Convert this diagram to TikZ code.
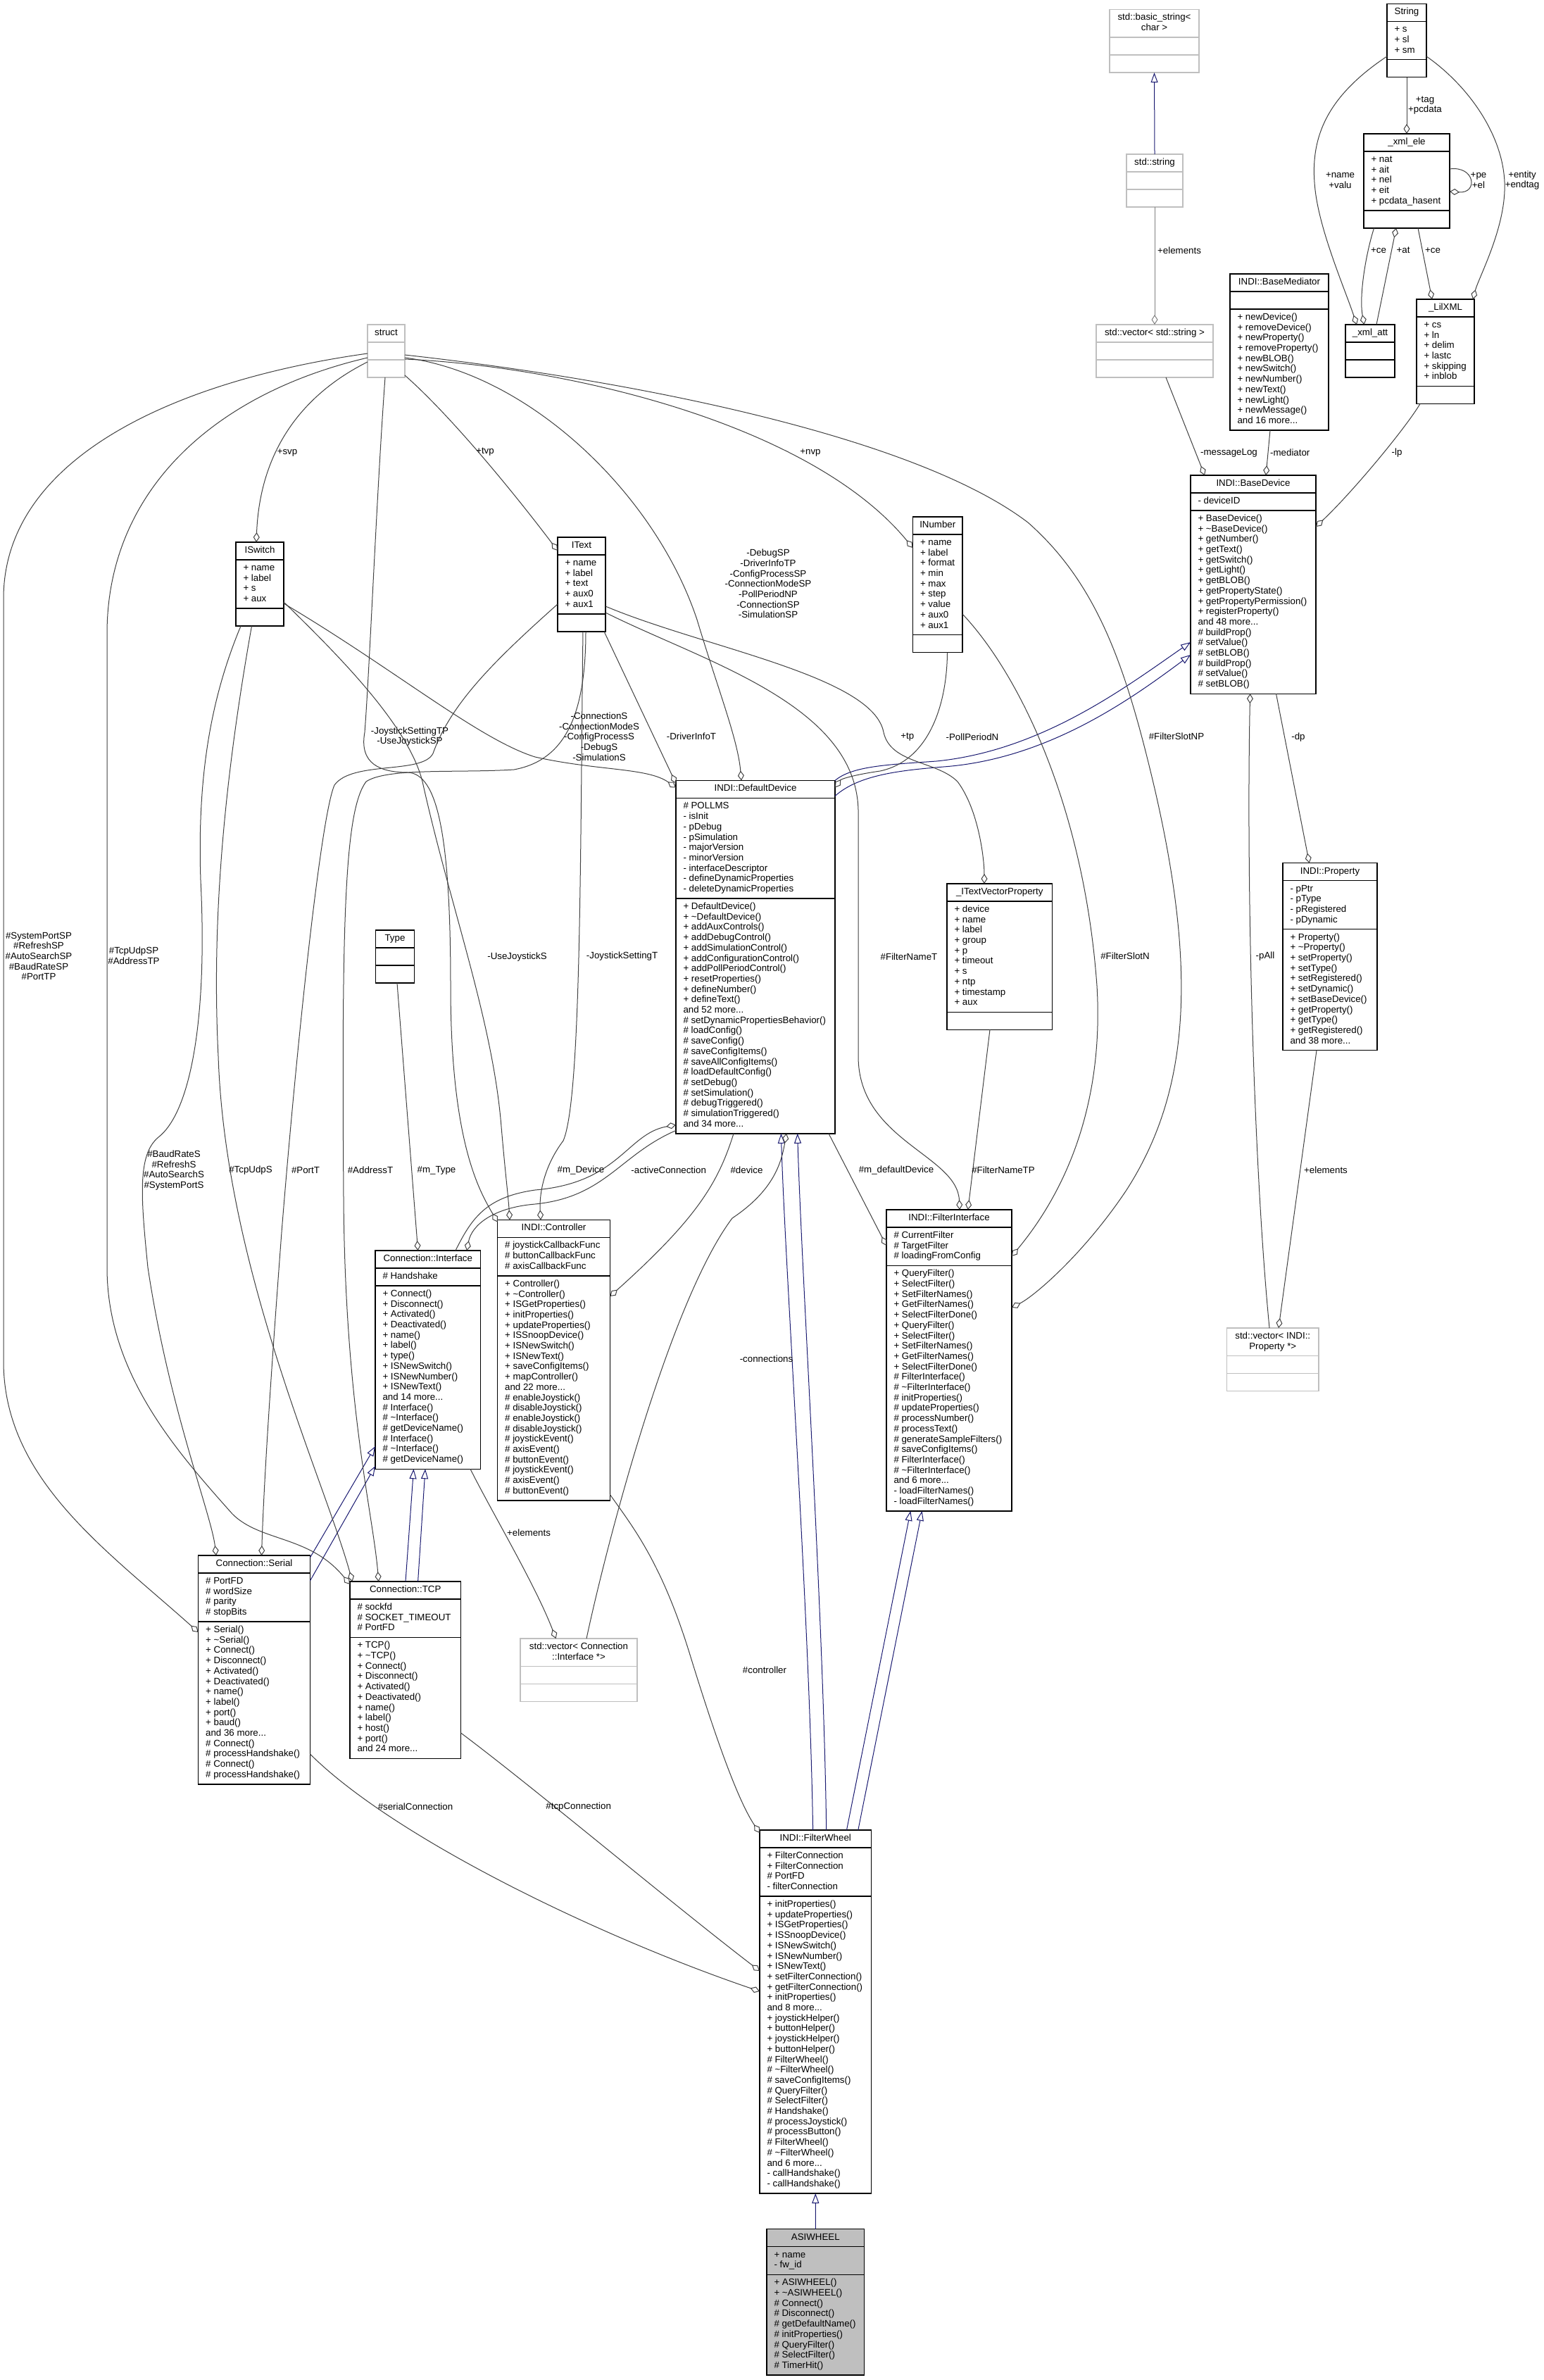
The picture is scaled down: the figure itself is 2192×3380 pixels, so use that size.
\documentclass[tikz,border=0pt]{standalone}
\usepackage{fontspec}
\setmainfont{Liberation Sans}
\usetikzlibrary{positioning,calc,fit,arrows.meta,backgrounds}

\definecolor{edgegray}{HTML}{404040}
\definecolor{inhblue}{HTML}{191970}
\definecolor{boxgray}{HTML}{BFBFBF}
\definecolor{tplgray}{HTML}{808080}

\newcommand{\tl}{\textasciitilde}

% class box: [frame style]{name}{top left}{width}{title}{attributes}{methods}
\newcommand{\umlclass}[7][umlframe]{%
  \coordinate (#2-nw) at #3;
  \node[umlhead] (#2-t) at ($(#2-nw)+(0.5*#4,0)$) {\strut#5\strut};
  \node[umlpart] (#2-a) at (#2-t.south -| #2-nw) {\strut#6\strut};
  \node[umlpart] (#2-m) at (#2-a.south -| #2-nw) {\strut#7\strut};
  \coordinate (#2-se) at ($(#2-m.south -| #2-nw)+(#4,0)$);
  \begin{pgfonlayer}{background}
    \node[#1,fit=(#2-nw)(#2-se),inner sep=0pt,outer sep=0pt] (#2) {};
  \end{pgfonlayer}
  \draw[#1] (#2-t.south -| #2-nw) -- (#2-t.south -| #2-se);
  \draw[#1] (#2-a.south -| #2-nw) -- (#2-a.south -| #2-se);
}

\tikzset{
  umltext/.style={font=\fontsize{13.3}{14.7}\selectfont,inner xsep=10.5pt,inner ysep=5.15pt,outer sep=0pt},
  umlhead/.style={umltext,align=center,anchor=north},
  umlpart/.style={umltext,align=left,anchor=north west},
  umlframe/.style={draw=black,line width=1.4pt},
  stdframe/.style={draw=boxgray,line width=1.4pt},
  agg/.style={draw=edgegray,line width=1pt,-{Diamond[open,length=14pt,width=9pt]}},
  inh/.style={draw=inhblue,line width=1pt,-{Triangle[open,length=14pt,width=10pt]}},
  lbl/.style={font=\fontsize{13.3}{14.7}\selectfont,align=center,inner sep=0pt},
}

\begin{document}
\begin{tikzpicture}[x=1pt,y=-1pt]
  \useasboundingbox (0,0) rectangle (2192,3380);
  % ---- string and xml helpers ----
  \umlclass[stdframe]{basicstr}{(1576,13.5)}{127}{std::basic\_string<\\char >}{}{}
  \umlclass[stdframe]{stdstr}{(1600,219)}{80}{std::string}{}{}
  \umlclass[stdframe]{vecstr}{(1557,461)}{166}{std::vector< std::string >}{}{}
  \umlclass{mediator}{(1747,389)}{140}{INDI::BaseMediator}{}{+ newDevice()\\+ removeDevice()\\+ newProperty()\\+ removeProperty()\\+ newBLOB()\\+ newSwitch()\\+ newNumber()\\+ newText()\\+ newLight()\\+ newMessage()\\and 16 more...}
  \umlclass{String}{(1970,5.4)}{56}{String}{+ s\\+ sl\\+ sm}{}
  \umlclass{xmlele}{(1937,190)}{122}{\_xml\_ele}{+ nat\\+ ait\\+ nel\\+ eit\\+ pcdata\_hasent}{}
  \umlclass{xmlatt}{(1911,461)}{70}{\_xml\_att}{}{}
  \umlclass{lilxml}{(2012,425)}{82}{\_LilXML}{+ cs\\+ ln\\+ delim\\+ lastc\\+ skipping\\+ inblob}{}
  % ---- base device ----
  \umlclass{basedev}{(1691,675)}{178}{INDI::BaseDevice}{- deviceID}{+ BaseDevice()\\+ \tl BaseDevice()\\+ getNumber()\\+ getText()\\+ getSwitch()\\+ getLight()\\+ getBLOB()\\+ getPropertyState()\\+ getPropertyPermission()\\+ registerProperty()\\and 48 more...\\\# buildProp()\\\# setValue()\\\# setBLOB()\\\# buildProp()\\\# setValue()\\\# setBLOB()}
  \umlclass{property}{(1822,1225.6)}{134}{INDI::Property}{- pPtr\\- pType\\- pRegistered\\- pDynamic}{+ Property()\\+ \tl Property()\\+ setProperty()\\+ setType()\\+ setRegistered()\\+ setDynamic()\\+ setBaseDevice()\\+ getProperty()\\+ getType()\\+ getRegistered()\\and 38 more...}
  \umlclass[stdframe]{vecprop}{(1742.5,1886)}{130.5}{std::vector< INDI::\\Property *>}{}{}
  % ---- property structs ----
  \umlclass[stdframe]{struct}{(522,461)}{53}{struct}{}{}
  \umlclass{iswitch}{(335,770)}{68}{ISwitch}{+ name\\+ label\\+ s\\+ aux}{}
  \umlclass{itext}{(792,763)}{68}{IText}{+ name\\+ label\\+ text\\+ aux0\\+ aux1}{}
  \umlclass{inumber}{(1296.5,734)}{70.5}{INumber}{+ name\\+ label\\+ format\\+ min\\+ max\\+ step\\+ value\\+ aux0\\+ aux1}{}
  \umlclass{itvp}{(1345,1255)}{149.5}{\_ITextVectorProperty}{+ device\\+ name\\+ label\\+ group\\+ p\\+ timeout\\+ s\\+ ntp\\+ timestamp\\+ aux}{}
  % ---- default device ----
  \umlclass{defdev}{(960,1108.5)}{226}{INDI::DefaultDevice}{\# POLLMS\\- isInit\\- pDebug\\- pSimulation\\- majorVersion\\- minorVersion\\- interfaceDescriptor\\- defineDynamicProperties\\- deleteDynamicProperties}{+ DefaultDevice()\\+ \tl DefaultDevice()\\+ addAuxControls()\\+ addDebugControl()\\+ addSimulationControl()\\+ addConfigurationControl()\\+ addPollPeriodControl()\\+ resetProperties()\\+ defineNumber()\\+ defineText()\\and 52 more...\\\# setDynamicPropertiesBehavior()\\\# loadConfig()\\\# saveConfig()\\\# saveConfigItems()\\\# saveAllConfigItems()\\\# loadDefaultConfig()\\\# setDebug()\\\# setSimulation()\\\# debugTriggered()\\\# simulationTriggered()\\and 34 more...}
  % ---- connections ----
  \umlclass{type}{(533.5,1321)}{55}{Type}{}{}
  \umlclass{iface}{(533,1776)}{149.5}{Connection::Interface}{\# Handshake}{+ Connect()\\+ Disconnect()\\+ Activated()\\+ Deactivated()\\+ name()\\+ label()\\+ type()\\+ ISNewSwitch()\\+ ISNewNumber()\\+ ISNewText()\\and 14 more...\\\# Interface()\\\# \tl Interface()\\\# getDeviceName()\\\# Interface()\\\# \tl Interface()\\\# getDeviceName()}
  \umlclass{controller}{(706.7,1732.5)}{159.7}{INDI::Controller}{\# joystickCallbackFunc\\\# buttonCallbackFunc\\\# axisCallbackFunc}{+ Controller()\\+ \tl Controller()\\+ ISGetProperties()\\+ initProperties()\\+ updateProperties()\\+ ISSnoopDevice()\\+ ISNewSwitch()\\+ ISNewText()\\+ saveConfigItems()\\+ mapController()\\and 22 more...\\\# enableJoystick()\\\# disableJoystick()\\\# enableJoystick()\\\# disableJoystick()\\\# joystickEvent()\\\# axisEvent()\\\# buttonEvent()\\\# joystickEvent()\\\# axisEvent()\\\# buttonEvent()}
  \umlclass{finterface}{(1259,1718)}{178}{INDI::FilterInterface}{\# CurrentFilter\\\# TargetFilter\\\# loadingFromConfig}{+ QueryFilter()\\+ SelectFilter()\\+ SetFilterNames()\\+ GetFilterNames()\\+ SelectFilterDone()\\+ QueryFilter()\\+ SelectFilter()\\+ SetFilterNames()\\+ GetFilterNames()\\+ SelectFilterDone()\\\# FilterInterface()\\\# \tl FilterInterface()\\\# initProperties()\\\# updateProperties()\\\# processNumber()\\\# processText()\\\# generateSampleFilters()\\\# saveConfigItems()\\\# FilterInterface()\\\# \tl FilterInterface()\\and 6 more...\\- loadFilterNames()\\- loadFilterNames()}
  \umlclass{serial}{(281.7,2209)}{158.7}{Connection::Serial}{\# PortFD\\\# wordSize\\\# parity\\\# stopBits}{+ Serial()\\+ \tl Serial()\\+ Connect()\\+ Disconnect()\\+ Activated()\\+ Deactivated()\\+ name()\\+ label()\\+ port()\\+ baud()\\and 36 more...\\\# Connect()\\\# processHandshake()\\\# Connect()\\\# processHandshake()}
  \umlclass{tcp}{(497,2246)}{157.5}{Connection::TCP}{\# sockfd\\\# SOCKET\_TIMEOUT\\\# PortFD}{+ TCP()\\+ \tl TCP()\\+ Connect()\\+ Disconnect()\\+ Activated()\\+ Deactivated()\\+ name()\\+ label()\\+ host()\\+ port()\\and 24 more...}
  \umlclass[stdframe]{veciface}{(739,2327)}{166}{std::vector< Connection\\::Interface *>}{}{}
  % ---- filter wheel ----
  \umlclass{fwheel}{(1079,2599)}{158.5}{INDI::FilterWheel}{+ FilterConnection\\+ FilterConnection\\\# PortFD\\- filterConnection}{+ initProperties()\\+ updateProperties()\\+ ISGetProperties()\\+ ISSnoopDevice()\\+ ISNewSwitch()\\+ ISNewNumber()\\+ ISNewText()\\+ setFilterConnection()\\+ getFilterConnection()\\+ initProperties()\\and 8 more...\\+ joystickHelper()\\+ buttonHelper()\\+ joystickHelper()\\+ buttonHelper()\\\# FilterWheel()\\\# \tl FilterWheel()\\\# saveConfigItems()\\\# QueryFilter()\\\# SelectFilter()\\\# Handshake()\\\# processJoystick()\\\# processButton()\\\# FilterWheel()\\\# \tl FilterWheel()\\and 6 more...\\- callHandshake()\\- callHandshake()}
  \umlclass[umlframe,fill=boxgray]{asiwheel}{(1089,3165.7)}{138.7}{ASIWHEEL}{+ name\\- fw\_id}{+ ASIWHEEL()\\+ \tl ASIWHEEL()\\\# Connect()\\\# Disconnect()\\\# getDefaultName()\\\# initProperties()\\\# QueryFilter()\\\# SelectFilter()\\\# TimerHit()}

  % ---- inheritance ----
  \draw[inh] (stdstr.north) -- (basicstr.south);
  \draw[inh] (defdev.north east) .. controls (1210,1088) and (1260,1086) .. (1330,1081) .. controls (1480,1066) and (1600,975) .. ([yshift=-237pt]basedev.north west);
  \draw[inh] ([yshift=-22pt]defdev.north east) .. controls (1220,1100) and (1280,1094) .. (1340,1089) .. controls (1490,1078) and (1610,990) .. ([yshift=-255pt]basedev.north west);
  \draw[inh] ([xshift=75.6pt]fwheel.north west) .. controls (1150,2300) and (1115,1800) .. ([xshift=149.4pt]defdev.south west);
  \draw[inh] ([xshift=94.7pt]fwheel.north west) .. controls (1170,2300) and (1138,1800) .. ([xshift=172.7pt]defdev.south west);
  \draw[inh] ([xshift=123.5pt]fwheel.north west) -- ([xshift=34.3pt]finterface.south west);
  \draw[inh] ([xshift=139.8pt]fwheel.north west) -- ([xshift=50.6pt]finterface.south west);
  \draw[inh] (asiwheel.north) -- (fwheel.south);
  \draw[inh] ([yshift=-3pt]serial.north east) -- ([yshift=-278pt]iface.north west);
  \draw[inh] ([yshift=-36pt]serial.north east) -- ([yshift=-306pt]iface.north west);
  \draw[inh] ([xshift=79pt]tcp.north west) -- ([xshift=54.5pt]iface.south west);
  \draw[inh] ([xshift=96.6pt]tcp.north west) -- ([xshift=71pt]iface.south west);

  % ---- members: top right ----
  \draw[agg,draw=tplgray] (stdstr.south) -- (vecstr.north);
  \node[lbl,anchor=west] (l-elem1) at (1644,355.5) {+elements};
  \draw[agg] ([xshift=99pt]vecstr.south west) -- ([xshift=20pt]basedev.north west);
  \node[lbl,anchor=west] (l-msglog) at (1705,643) {-messageLog};
  \draw[agg] ([xshift=57pt]mediator.south west) -- ([xshift=107pt]basedev.north west);
  \node[lbl,anchor=west] (l-mediator) at (1804,643) {-mediator};
  \draw[agg] ([xshift=5pt]lilxml.south west) .. controls (1995,610) and (1920,700) .. ([yshift=-73pt]basedev.north east);
  \node[lbl] (l-lp) at (1984,643) {-lp};
  \draw[agg] (String.south) -- (xmlele.north);
  \node[lbl] (l-tag) at (2024,149.5) {+tag\\+pcdata};
  \draw[agg] ([yshift=-74.6pt]String.north west) .. controls (1880,140) and (1860,200) .. (1868,270) .. controls (1875,330) and (1910,410) .. ([xshift=16pt]xmlatt.north west);
  \node[lbl] (l-name) at (1903.5,256) {+name\\+valu};
  \draw[agg] ([yshift=-74.6pt]String.north east) .. controls (2090,125) and (2140,200) .. (2137,271) .. controls (2135,330) and (2100,395) .. ([xshift=-2pt]lilxml.north east);
  \node[lbl] (l-entity) at (2162,256) {+entity\\+endtag};
  \draw[agg] ([xshift=14.6pt]xmlele.south west) .. controls (1940,360) and (1930,420) .. ([xshift=26.6pt]xmlatt.north west);
  \node[lbl] (l-ce1) at (1958,355.5) {+ce};
  \draw[agg] ([xshift=44pt]xmlatt.north west) -- ([xshift=46pt]xmlele.south west);
  \node[lbl] (l-at) at (1993,355.5) {+at};
  \draw[agg] ([xshift=77pt]xmlele.south west) -- ([xshift=22pt]lilxml.north west);
  \node[lbl] (l-ce2) at (2035,355.5) {+ce};
  \draw[agg] ([yshift=-50pt]xmlele.north east) .. controls (2095,235) and (2100,275) .. ([yshift=-82pt]xmlele.north east);
  \node[lbl] (l-pe) at (2100,256) {+pe\\+el};
  \draw[agg] ([xshift=60.5pt]vecprop.north west) .. controls (1780,1650) and (1770,1250) .. ([xshift=84.6pt]basedev.south west);
  \node[lbl] (l-pall) at (1797,1358) {-pAll};
  \draw[agg] ([xshift=121.5pt]basedev.south west) -- ([xshift=37.6pt]property.north west);
  \node[lbl] (l-dp) at (1844,1046.7) {-dp};
  \draw[agg] ([xshift=48pt]property.south west) -- ([xshift=73.5pt]vecprop.north west);
  \node[lbl] (l-elem2) at (1883,1662) {+elements};

  % ---- members: struct ----
  \draw[agg] ([yshift=-53pt]struct.north west) .. controls (450,550) and (370,620) .. ([xshift=29pt]iswitch.north west);
  \node[lbl] (l-svp) at (408,643) {+svp};
  \draw[agg] ([yshift=-72pt]struct.north east) .. controls (640,590) and (730,700) .. ([yshift=-19pt]itext.north west);
  \node[lbl] (l-tvp) at (689,642) {+tvp};
  \draw[agg] ([yshift=-49pt]struct.north east) .. controls (800,520) and (1150,600) .. ([yshift=-44pt]inumber.north west);
  \node[lbl] (l-nvp) at (1151,643) {+nvp};
  \draw[agg] ([yshift=-47pt]struct.north east) .. controls (750,530) and (930,700) .. (990,880) .. controls (1020,980) and (1048,1050) .. ([xshift=93pt]defdev.north west);
  \node[lbl] (l-sp) at (1091,829) {-DebugSP\\-DriverInfoTP\\-ConfigProcessSP\\-ConnectionModeSP\\-PollPeriodNP\\-ConnectionSP\\-SimulationSP};
  \draw[agg] ([yshift=-43pt]struct.north east) .. controls (900,540) and (1300,620) .. (1460,742) .. controls (1560,830) and (1600,950) .. (1640,1120) .. controls (1700,1380) and (1690,1550) .. (1600,1690) .. controls (1540,1780) and (1470,1840) .. ([yshift=-139pt]finterface.north east);
  \node[lbl] (l-slotnp) at (1671,1046) {\#FilterSlotNP};
  \draw[agg] ([xshift=25pt]struct.south west) .. controls (535,700) and (525,950) .. (518,1040) .. controls (510,1085) and (540,1097) .. (580,1097) .. controls (620,1100) and (640,1180) .. (640,1400) .. controls (640,1620) and (680,1690) .. ([yshift=-3pt]controller.north west);
  \node[lbl] (l-joysp) at (582,1046) {-JoystickSettingTP\\-UseJoystickSP};
  \draw[agg] ([yshift=-41pt]struct.north west) .. controls (250,540) and (5,650) .. (5,850) -- (5,1933) .. controls (5,2100) and (150,2200) .. ([yshift=-109pt]serial.north west);
  \node[lbl] (l-serialsp) at (55,1358) {\#SystemPortSP\\\#RefreshSP\\\#AutoSearchSP\\\#BaudRateSP\\\#PortTP};
  \draw[agg] ([yshift=-47pt]struct.north west) .. controls (300,560) and (152,700) .. (152,900) -- (152,1800) .. controls (152,1950) and (250,2060) .. (330,2150) .. controls (370,2190) and (440,2180) .. ([yshift=-4pt]tcp.north west);
  \node[lbl] (l-tcpsp) at (190,1357) {\#TcpUdpSP\\\#AddressTP};

  % ---- members: ISwitch, IText, INumber ----
  \draw[agg] ([yshift=-87pt]iswitch.north east) .. controls (560,950) and (680,1050) .. (760,1075) .. controls (850,1095) and (920,1090) .. ([yshift=-10pt]defdev.north west);
  \node[lbl] (l-switches) at (851,1046) {-ConnectionS\\-ConnectionModeS\\-ConfigProcessS\\-DebugS\\-SimulationS};
  \draw[agg] ([yshift=-85pt]iswitch.north east) .. controls (480,930) and (580,1030) .. (600,1110) .. controls (640,1290) and (700,1450) .. (712,1600) .. controls (718,1670) and (722,1700) .. ([xshift=17.3pt]controller.north west);
  \node[lbl] (l-usejoy) at (734.5,1358.6) {-UseJoystickS};
  \draw[agg] ([xshift=7pt]iswitch.south west) .. controls (300,990) and (280,1100) .. (285,1250) .. controls (295,1450) and (270,1580) .. (225,1615) .. controls (195,1640) and (200,1700) .. (210,1800) .. controls (240,2000) and (300,2150) .. ([xshift=25.3pt]serial.north west);
  \node[lbl] (l-serials) at (247,1662) {\#BaudRateS\\\#RefreshS\\\#AutoSearchS\\\#SystemPortS};
  \draw[agg] ([xshift=22.5pt]iswitch.south west) .. controls (320,1100) and (300,1300) .. (310,1500) .. controls (320,1800) and (460,2100) .. ([xshift=3.5pt]tcp.north west);
  \node[lbl] (l-tcpudps) at (356,1662) {\#TcpUdpS};
  \draw[agg] ([xshift=66pt]itext.south west) -- ([yshift=-4pt]defdev.north west);
  \node[lbl] (l-drvinfo) at (982,1046) {-DriverInfoT};
  \draw[agg] ([xshift=36pt]itext.south west) .. controls (824,1200) and (826,1560) .. (800,1620) .. controls (770,1660) and (766,1700) .. ([xshift=61.3pt]controller.north west);
  \node[lbl] (l-joyset) at (883.6,1358.4) {-JoystickSettingT};
  \draw[agg] ([yshift=-95pt]itext.north west) .. controls (700,940) and (640,1000) .. (615,1070) .. controls (600,1100) and (500,1080) .. (475,1115) .. controls (455,1160) and (420,1500) .. (400,1750) .. controls (385,1950) and (375,2100) .. ([xshift=89.8pt]serial.north west);
  \node[lbl] (l-portt) at (434,1662) {\#PortT};
  \draw[agg] ([xshift=40pt]itext.south west) .. controls (832,1020) and (800,1080) .. (730,1093) .. controls (650,1098) and (550,1090) .. (520,1110) .. controls (490,1150) and (485,1300) .. (488,1700) .. controls (490,2000) and (530,2150) .. ([xshift=40.7pt]tcp.north west);
  \node[lbl] (l-addrt) at (526,1662) {\#AddressT};
  \draw[agg] ([yshift=-98pt]itext.north east) .. controls (1000,920) and (1240,960) .. (1255,1040) .. controls (1265,1085) and (1330,1080) .. (1360,1110) .. controls (1390,1150) and (1398,1220) .. ([xshift=53pt]itvp.north west);
  \node[lbl] (l-tp) at (1288.7,1046.7) {+tp};
  \draw[agg] ([yshift=-107pt]itext.north east) .. controls (1000,940) and (1215,1000) .. (1219,1150) -- (1219,1500) .. controls (1219,1620) and (1360,1640) .. ([xshift=104pt]finterface.north west);
  \node[lbl] (l-fnamet) at (1291,1358.4) {\#FilterNameT};
  \draw[agg] ([xshift=49pt]inumber.south west) .. controls (1345,1000) and (1320,1080) .. (1250,1095) .. controls (1215,1100) and (1195,1106) .. ([yshift=-10pt]defdev.north east);
  \node[lbl] (l-pollp) at (1381,1046.7) {-PollPeriodN};
  \draw[agg] ([yshift=-138pt]inumber.north east) .. controls (1450,960) and (1540,1150) .. (1558,1400) .. controls (1570,1600) and (1490,1720) .. ([yshift=-66pt]finterface.north east);
  \node[lbl] (l-slotn) at (1598,1358) {\#FilterSlotN};
  \draw[agg] ([xshift=61pt]itvp.south west) -- ([xshift=115.8pt]finterface.north west);
  \node[lbl] (l-fnametp) at (1425,1662) {\#FilterNameTP};

  % ---- members: device and connections ----
  \draw[agg] ([xshift=82pt]defdev.south west) .. controls (1020,1680) and (990,1730) .. ([yshift=-108.5pt]controller.north east);
  \node[lbl] (l-device) at (1060.5,1662) {\#device};
  \draw[agg] ([yshift=-497pt]defdev.north west) .. controls (880,1640) and (860,1700) .. (760,1710) .. controls (700,1715) and (670,1740) .. ([xshift=130pt]iface.north west);
  \node[lbl] (l-mdevice) at (825,1662) {\#m\_Device};
  \draw[agg] ([xshift=114pt]iface.north west) .. controls (670,1730) and (690,1700) .. (760,1690) .. controls (880,1680) and (890,1610) .. ([yshift=-489pt]defdev.north west);
  \node[lbl] (l-active) at (949.7,1662) {-activeConnection};
  \draw[agg] ([xshift=217pt]defdev.south west) -- ([yshift=-51pt]finterface.north west);
  \node[lbl] (l-mdefdev) at (1273,1662) {\#m\_defaultDevice};
  \draw[agg] ([xshift=30.5pt]type.south west) -- ([xshift=60.6pt]iface.north west);
  \node[lbl] (l-mtype) at (620,1662) {\#m\_Type};
  \draw[agg] ([xshift=135pt]iface.south west) .. controls (700,2150) and (760,2250) .. ([xshift=50.6pt]veciface.north west);
  \node[lbl,anchor=west] (l-elem3) at (720,2177) {+elements};
  \draw[agg] ([xshift=94pt]veciface.north west) .. controls (860,2200) and (950,1850) .. (1040,1730) .. controls (1100,1690) and (1110,1650) .. ([xshift=157pt]defdev.south west);
  \node[lbl] (l-conns) at (1088.5,1930) {-connections};

  % ---- members: filter wheel ----
  \draw[agg] ([yshift=-390pt]controller.north east) .. controls (900,2170) and (940,2220) .. (980,2350) .. controls (1020,2480) and (1050,2560) .. ([yshift=-4pt]fwheel.north west);
  \node[lbl] (l-ctrl) at (1086,2371.5) {\#controller};
  \draw[agg] ([yshift=-282pt]serial.north east) .. controls (560,2610) and (850,2750) .. ([yshift=-229pt]fwheel.north west);
  \node[lbl] (l-serconn) at (590,2566) {\#serialConnection};
  \draw[agg] ([yshift=-215pt]tcp.north east) .. controls (760,2540) and (950,2700) .. ([yshift=-200pt]fwheel.north west);
  \node[lbl] (l-tcpconn) at (821.7,2566) {\#tcpConnection};
\end{tikzpicture}
\end{document}
